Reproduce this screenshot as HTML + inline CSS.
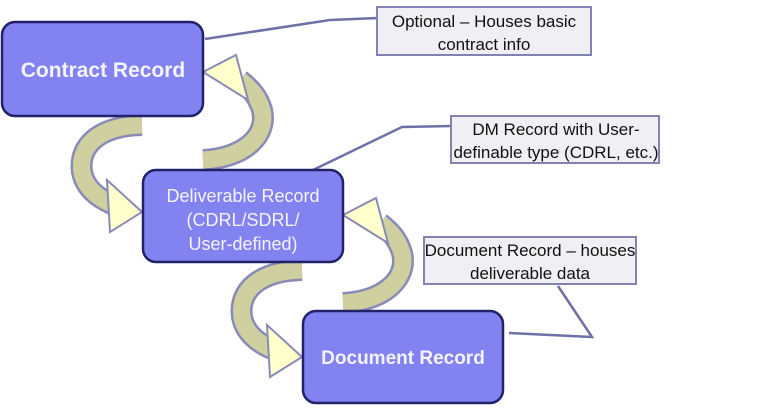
<!DOCTYPE html>
<html><head><meta charset="utf-8"><style>
body{margin:0;background:#fff;width:768px;height:406px;overflow:hidden;font-family:"Liberation Sans",sans-serif}
</style></head><body>
<svg width="768" height="406" viewBox="0 0 768 406" xmlns="http://www.w3.org/2000/svg">
<g stroke="#7070a8" stroke-width="2.5" fill="none">
<polyline points="205,39 330,20 378,18"/>
<polyline points="313,170 402,127 452,126"/>
<polyline points="509,333 592,337 558,286"/>
</g>
<g fill="#f0f0f4" stroke="#8282b4" stroke-width="2">
<rect x="377" y="7" width="214" height="48"/>
<rect x="451" y="116" width="208" height="47"/>
<rect x="424" y="237" width="212" height="47"/>
</g>
<g font-size="17" fill="#111" text-anchor="middle">
<text x="484" y="27">Optional – Houses basic</text>
<text x="484" y="50">contract info</text>
<text x="556" y="135">DM Record with User-</text>
<text x="556" y="158">definable type (CDRL, etc.)</text>
<text x="530" y="256">Document Record – houses</text>
<text x="530" y="279">deliverable data</text>
</g>
<defs>
<g id="L">
<path d="M142,125 C100,126 78,145 82,172 C85,188 98,198 112,204" stroke="#8a8ab8" stroke-width="22" fill="none"/>
<path d="M142,125 C100,126 78,145 82,172 C85,188 98,198 112,204" stroke="#cfcfa0" stroke-width="17" fill="none"/>
<polygon points="142,212 107,180 110,232" fill="#ffffcc" stroke="#8a8ab8" stroke-width="2"/>
</g>
<g id="R">
<path d="M203,160 C245,158 268,135 262,110 C258,96 250,88 240,80" stroke="#8a8ab8" stroke-width="22" fill="none"/>
<path d="M203,160 C245,158 268,135 262,110 C258,96 250,88 240,80" stroke="#cfcfa0" stroke-width="17" fill="none"/>
<polygon points="203,72 236,55 248,100" fill="#ffffcc" stroke="#8a8ab8" stroke-width="2"/>
</g>
</defs>
<use href="#L"/>
<use href="#R"/>
<use href="#L" transform="translate(160,145)"/>
<use href="#R" transform="translate(140,143)"/>
<g fill="#8282f0" stroke="#22226a" stroke-width="2.5">
<rect x="2" y="22" width="201" height="94" rx="13"/>
<rect x="143" y="170" width="200" height="92" rx="13"/>
<rect x="303" y="311" width="200" height="92" rx="13"/>
</g>
<g fill="#f4f4ff" text-anchor="middle">
<text x="103" y="77" font-size="21" font-weight="bold">Contract Record</text>
<text x="243" y="202" font-size="18">Deliverable Record</text>
<text x="243" y="226" font-size="18">(CDRL/SDRL/</text>
<text x="243" y="250" font-size="18">User-defined)</text>
<text x="403" y="364" font-size="19" font-weight="bold">Document Record</text>
</g>
</svg>
</body></html>
